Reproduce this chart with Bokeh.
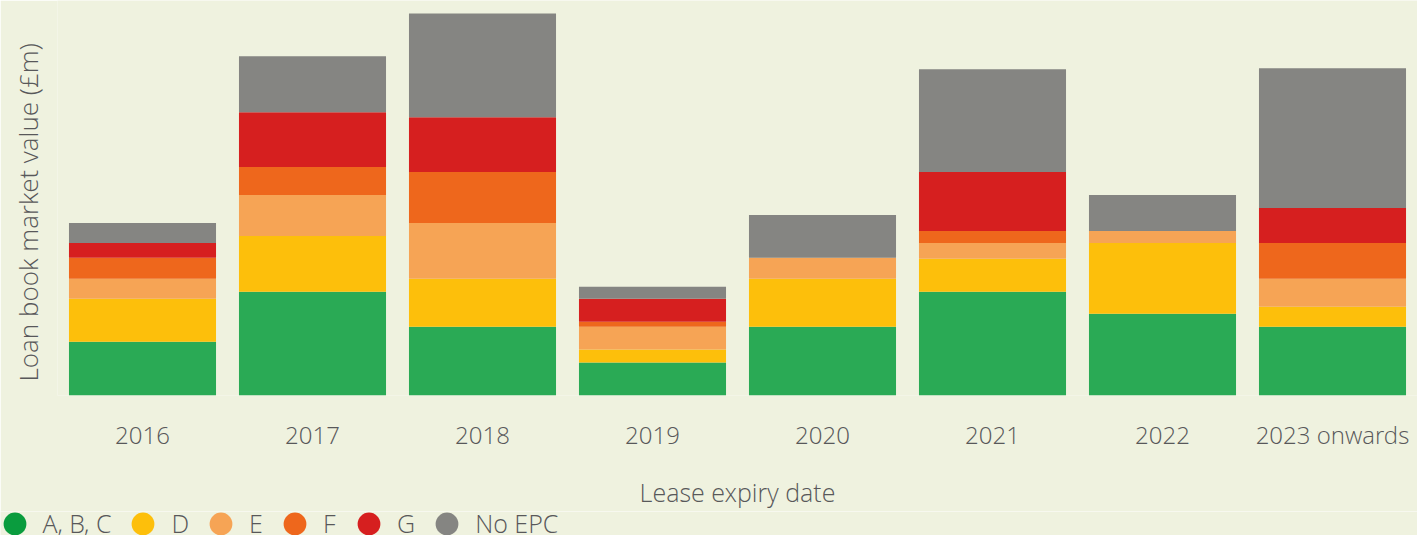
from bokeh.plotting import figure
from bokeh.layouts import column
from bokeh.models import (ColumnDataSource, Range1d, FactorRange, Legend,
                          LegendItem, Title)
from bokeh.embed import file_html
from bokeh.resources import INLINE

# ---- data (estimated, £m) ----
years = ["2016", "2017", "2018", "2019", "2020", "2021", "2022", "2023 onwards"]
epc_abc = [27.0, 52.0, 34.5, 16.5, 34.5, 52.0, 41.0, 34.5]
epc_d = [21.5, 28.0, 24.0, 6.5, 24.0, 16.5, 35.5, 10.0]
epc_e = [10.0, 20.5, 28.0, 11.5, 10.5, 8.0, 6.0, 14.0]
epc_f = [10.5, 14.0, 25.5, 2.5, 0.0, 6.0, 0.0, 18.0]
epc_g = [7.5, 27.5, 27.5, 11.5, 0.0, 29.5, 0.0, 17.5]
no_epc = [10.0, 28.0, 52.0, 6.0, 21.5, 51.5, 18.0, 70.0]

series = ["abc", "d", "e", "f", "g", "none"]
labels = ["A, B, C", "D", "E", "F", "G", "No EPC"]
colors = ["#2AAA55", "#FDBF0B", "#F6A455", "#EE671C", "#D61F1F", "#858582"]
legend_colors = ["#0A9C3E", "#FDBF0B", "#F6A455", "#EE671C", "#D61F1F", "#858582"]

source = ColumnDataSource(dict(year=years, abc=epc_abc, d=epc_d, e=epc_e,
                               f=epc_f, g=epc_g, none=no_epc))

BG = "#EFF2DF"
TXT = "#58585A"
FONT = "Open Sans Light"

p = figure(width=1417, height=511, x_range=FactorRange(*years),
           y_range=Range1d(0, 198), output_backend="svg", toolbar_location=None,
           min_border_left=57, min_border_right=0, min_border_top=0,
           min_border_bottom=115)
p.frame_align = False
p.background_fill_color = BG
p.border_fill_color = BG
p.outline_line_color = None
p.xgrid.grid_line_color = None
p.ygrid.grid_line_color = None

p.vbar_stack(series, x="year", width=0.865, color=colors, line_color=None,
             source=source)

# x axis
xa = p.xaxis[0]
xa.axis_line_color = None
xa.major_tick_line_color = None
xa.minor_tick_line_color = None
xa.major_tick_out = 0
xa.major_tick_in = 0
xa.major_label_standoff = 22
xa.major_label_text_font = FONT
xa.major_label_text_font_size = "24px"
xa.major_label_text_color = TXT
xa.axis_label = "Lease expiry date"
xa.axis_label_text_font = FONT
xa.axis_label_text_font_size = "25px"
xa.axis_label_text_font_style = "normal"
xa.axis_label_text_color = TXT
xa.axis_label_standoff = 21

# y axis: hidden, its label drawn as a side title
p.yaxis.visible = False
ytitle = Title(text="Loan book market value (£m)", align="left", offset=14,
               standoff=19, vertical_align="top", text_font=FONT,
               text_font_size="26px", text_font_style="normal", text_color=TXT)
p.add_layout(ytitle, "left")

# legend strip (circle markers)
q = figure(width=1417, height=24, x_range=Range1d(0, 1), y_range=Range1d(0, 1),
           output_backend="svg", toolbar_location=None, min_border=0,
           min_border_left=0, min_border_right=0, min_border_top=0,
           min_border_bottom=0)
q.frame_align = False
q.axis.visible = False
q.grid.visible = False
q.outline_line_color = None
q.background_fill_color = BG
q.border_fill_color = BG

nan = float("nan")
items = []
for lab, c in zip(labels, legend_colors):
    r = q.scatter(x=[nan], y=[nan], marker="circle", fill_color=c, line_color=None)
    items.append(LegendItem(label=lab, renderers=[r]))

legend = Legend(items=items, orientation="horizontal", location=(-14.5, -16.5),
                glyph_width=57, glyph_height=57, label_standoff=0,
                label_width=14, spacing=3, padding=0, margin=0,
                border_line_color=None, background_fill_alpha=0,
                label_text_font=FONT, label_text_font_size="25px",
                label_text_color=TXT)
q.add_layout(legend)

layout = column(p, q, spacing=0)
open("out.html", "w").write(file_html(layout, INLINE))
